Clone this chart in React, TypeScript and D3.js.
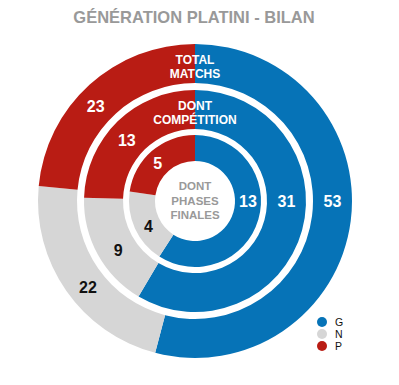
import React from 'react';
import * as d3 from 'd3';

// Résultats de la génération Platini (G = gagnés, N = nuls, P = perdus)
const categories = ['G', 'N', 'P'];
const totalMatchs = [53, 22, 23];
const competition = [31, 9, 13];
const phasesFinales = [13, 4, 5];

const ringTitles = [['TOTAL', 'MATCHS'], ['DONT', 'COMPÉTITION'], ['DONT', 'PHASES', 'FINALES']];
const title = 'GÉNÉRATION PLATINI - BILAN';

const W = 399;
const H = 385;
const cx = 195;
const cy = 201;
const font = '"Liberation Sans", Arial, Helvetica, sans-serif';

const color = d3.scaleOrdinal<string, string>()
    .domain(categories)
    .range(['#0673b7', '#d6d6d6', '#b91c14']);

const labelColor = d3.scaleOrdinal<string, string>()
    .domain(categories)
    .range(['#ffffff', '#111111', '#ffffff']);

// rayons [intérieur, extérieur] de chaque anneau, de l'extérieur vers le centre
const rings = [
    { values: totalMatchs, inner: 118, outer: 157 },
    { values: competition, inner: 72, outer: 111 },
    { values: phasesFinales, inner: 40, outer: 66 },
];

const pie = d3.pie<number>().sort(null).startAngle(0).endAngle(2 * Math.PI);

export default function App() {
    return (
        <svg width={W} height={H} style={{ position: 'absolute', left: 0, top: 0, background: '#fff' }}
            fontFamily={font}>
            <text x={194} y={23} textAnchor="middle" fontSize={16.5} fontWeight="bold" fill="#999999">{title}</text>

            <g transform={`translate(${cx},${cy})`}>
                {rings.map((ring, ri) => {
                    const arc = d3.arc<d3.PieArcDatum<number>>().innerRadius(ring.inner).outerRadius(ring.outer);
                    const midR = (ring.inner + ring.outer) / 2;
                    return (
                        <g key={ri}>
                            {pie(ring.values).map((a, i) => (
                                <path key={i} d={arc(a) || ''} fill={color(categories[i])} />
                            ))}
                            {pie(ring.values).map((a, i) => {
                                // la tranche qui couvre 3 heures reçoit son étiquette à l'horizontale
                                const ang = a.startAngle < Math.PI / 2 && a.endAngle > Math.PI / 2
                                    ? Math.PI / 2
                                    : (a.startAngle + a.endAngle) / 2 - 0.07;
                                const x = midR * Math.sin(ang);
                                const y = -midR * Math.cos(ang);
                                return (
                                    <text key={'l' + i} x={x} y={y} dy="0.36em" textAnchor="middle"
                                        fontSize={16} fontWeight="bold" fill={labelColor(categories[i])}>
                                        {a.data}
                                    </text>
                                );
                            })}
                        </g>
                    );
                })}

                {ringTitles.slice(0, 2).map((lines, ri) => {
                    const midY = -(rings[ri].inner + rings[ri].outer) / 2 + 3;
                    return (
                        <text key={'t' + ri} textAnchor="middle" fontSize={12} fontWeight="bold" fill="#ffffff">
                            {lines.map((l, li) => (
                                <tspan key={li} x={0} y={midY + (li - (lines.length - 1) / 2) * 14.5 + 4.3}>{l}</tspan>
                            ))}
                        </text>
                    );
                })}

                <text textAnchor="middle" fontSize={11.5} fontWeight="bold" fill="#999999">
                    {ringTitles[2].map((l, li) => (
                        <tspan key={li} x={0} y={(li - 1) * 14.3 + 3.5}>{l}</tspan>
                    ))}
                </text>
            </g>

            <g transform="translate(322,322)">
                {categories.map((c, i) => (
                    <g key={c} transform={`translate(0,${i * 12})`}>
                        <circle r={5} fill={color(c)} />
                        <text x={13} dy="0.35em" fontSize={10.5} fill="#111">{c}</text>
                    </g>
                ))}
            </g>
        </svg>
    );
}
